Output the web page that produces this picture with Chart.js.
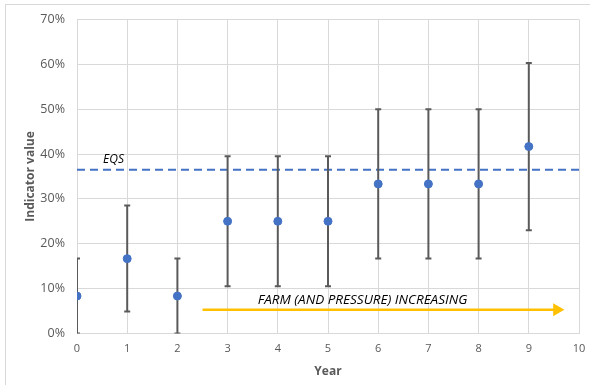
<!DOCTYPE html>
<html>
<head>
<meta charset="utf-8">
<script src="https://cdn.jsdelivr.net/npm/chart.js@4"></script>
<style>
  html, body { margin: 0; padding: 0; background: #fff; }
  #wrap { position: relative; width: 590px; height: 385px; overflow: hidden; }
  #frame { position: absolute; left: 5px; top: 4px; width: 600px; height: 400px; border: 1px solid #d9d9d9; box-sizing: border-box; }
  canvas { position: absolute; left: 0; top: 0; }
</style>
</head>
<body>
<div id="wrap">
  <div id="frame"></div>
  <canvas id="chart" width="590" height="385"></canvas>
</div>
<script>
// Data
const years = [0, 1, 2, 3, 4, 5, 6, 7, 8, 9];
const indicator = [0.0833, 0.1667, 0.0833, 0.25, 0.25, 0.25, 0.3333, 0.3333, 0.3333, 0.4167];
const lowerBound = [0, 0.049, 0, 0.105, 0.105, 0.105, 0.167, 0.167, 0.167, 0.23];
const upperBound = [0.167, 0.285, 0.167, 0.395, 0.395, 0.395, 0.50, 0.50, 0.50, 0.603];
const eqsLevel = 0.365;
const arrowSpan = [2.5, 9.56];
const arrowLevel = 0.053;
const yTicks = [0, 0.1, 0.2, 0.3, 0.4, 0.5, 0.6, 0.7];

const blue = '#4472c4';
const barGrey = '#5a5a5a';
const fam = '"Open Sans", "Liberation Sans", sans-serif';

// error bars as one broken line, caps drawn as 'line' points
const errData = [];
years.forEach((yr, i) => {
    errData.push({ x: yr, y: lowerBound[i] });
    errData.push({ x: yr, y: upperBound[i] });
    errData.push({ x: yr, y: null });
});

const textLabels = {
    id: 'textLabels',
    afterDatasetsDraw(chart) {
        const { ctx, scales: { x, y } } = chart;
        ctx.save();
        ctx.fillStyle = '#000';
        ctx.textBaseline = 'alphabetic';
        ctx.textAlign = 'left';
        ctx.font = 'italic 12px ' + fam;
        ctx.fillText('EQS', x.getPixelForValue(0.52), y.getPixelForValue(eqsLevel) - 7);
        ctx.font = 'italic 13.5px ' + fam;
        ctx.fillText('FARM (AND PRESSURE) INCREASING', x.getPixelForValue(3.6), y.getPixelForValue(arrowLevel) - 6);
        ctx.restore();
    }
};

new Chart(document.getElementById('chart'), {
    type: 'scatter',
    data: {
        datasets: [
            {
                label: 'EQS',
                type: 'line',
                data: [{ x: 0, y: eqsLevel }, { x: 10, y: eqsLevel }],
                borderColor: blue,
                borderWidth: 2,
                borderDash: [8, 5],
                pointRadius: 0,
                order: 3
            },
            {
                label: 'Range',
                type: 'line',
                data: errData,
                borderColor: barGrey,
                borderWidth: 2,
                spanGaps: false,
                pointStyle: 'line',
                pointRadius: 3,
                pointBorderColor: barGrey,
                pointBorderWidth: 2,
                order: 2
            },
            {
                label: 'Trend',
                type: 'line',
                data: [{ x: arrowSpan[0], y: arrowLevel }, { x: arrowSpan[1], y: arrowLevel }],
                borderColor: '#ffc000',
                borderWidth: 2.5,
                pointStyle: 'triangle',
                pointRotation: 90,
                pointRadius: [0, 5],
                pointBackgroundColor: '#ffc000',
                pointBorderColor: '#ffc000',
                order: 2
            },
            {
                label: 'Indicator',
                data: years.map((yr, i) => ({ x: yr, y: indicator[i] })),
                backgroundColor: blue,
                borderColor: blue,
                pointRadius: 4,
                order: 1
            }
        ]
    },
    options: {
        responsive: false,
        animation: false,
        layout: { padding: { left: 0, right: 0, top: 16, bottom: 2 } },
        plugins: {
            legend: { display: false },
            tooltip: { enabled: false }
        },
        scales: {
            x: {
                type: 'linear',
                min: 0,
                max: 10,
                afterFit(axis) { axis.paddingRight = 11; axis.paddingLeft = 0; },
                ticks: {
                    stepSize: 1,
                    color: '#595959',
                    font: { size: 11, family: fam },
                    padding: 9
                },
                grid: { color: '#d9d9d9', drawTicks: false },
                border: { color: '#d9d9d9' },
                title: {
                    display: true,
                    text: 'Year',
                    color: '#595959',
                    font: { size: 12, weight: 'bold', family: fam },
                    padding: { top: 0 }
                }
            },
            y: {
                min: 0,
                max: 0.7,
                afterBuildTicks(axis) { axis.ticks = yTicks.map(v => ({ value: v })); },
                afterFit(axis) { axis.width = 77; },
                ticks: {
                    color: '#595959',
                    font: { size: 12.5, family: fam },
                    padding: 12,
                    callback: v => Math.round(v * 100) + '%'
                },
                grid: { color: '#d9d9d9', drawTicks: false },
                border: { color: '#d9d9d9' },
                title: {
                    display: true,
                    text: 'Indicator value',
                    color: '#595959',
                    font: { size: 12, weight: 'bold', family: fam },
                    padding: { top: 23, bottom: 0 }
                }
            }
        }
    },
    plugins: [textLabels]
});
</script>
</body>
</html>
